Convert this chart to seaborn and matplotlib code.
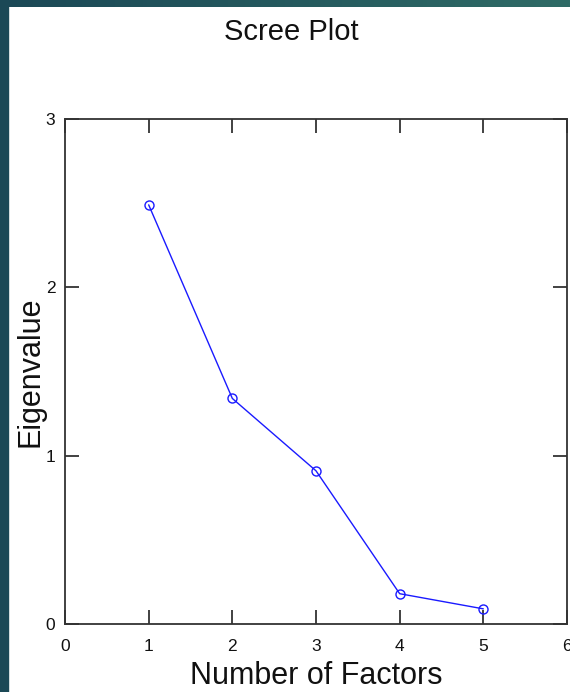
import numpy as np
import pandas as pd
import matplotlib
matplotlib.use("Agg")
import matplotlib.pyplot as plt
import seaborn as sns

# Scree plot data
factors = [1, 2, 3, 4, 5]
eigenvalues = [2.49, 1.34, 0.91, 0.18, 0.09]
x_ticks = [0, 1, 2, 3, 4, 5, 6]
y_ticks = [0, 1, 2, 3]

df = pd.DataFrame({"factor": factors, "eigenvalue": eigenvalues})

sns.set_style("ticks")
plt.rcParams['font.family'] = ['Liberation Sans', 'DejaVu Sans']

fig = plt.figure(figsize=(5.7, 6.92), dpi=100)
fig.patch.set_facecolor("white")

# dark slide border on the left and top
fig.patches.append(plt.Rectangle((0, 0), 8 / 570, 1, transform=fig.transFigure,
                                 color="#1b4856", zorder=0))
band = fig.add_axes([0, 1 - 7 / 692, 1, 7 / 692])
grad = np.linspace(0, 1, 256).reshape(1, -1)
band.imshow(grad, aspect="auto",
            cmap=matplotlib.colors.LinearSegmentedColormap.from_list("b", ["#1b4856", "#2f6b66"]))
band.axis("off")

ax = fig.add_axes([65 / 570, 68 / 692, 502 / 570, 505 / 692])
sns.lineplot(data=df, x="factor", y="eigenvalue", ax=ax, color="#1a1aff", linewidth=1,
             marker="o", markersize=6.5, markerfacecolor="none", markeredgecolor="#1a1aff",
             markeredgewidth=1)

ax.set_xlim(0, 6)
ax.set_ylim(0, 3)
ax.set_xticks(x_ticks)
ax.set_yticks(y_ticks)
ax.tick_params(direction="in", top=True, right=True, length=10, width=1.3,
               color="#333333", labelsize=12.5, labelcolor="#111111")
ax.tick_params(axis="x", pad=10.5)
ax.tick_params(axis="y", pad=7)
for s in ax.spines.values():
    s.set_visible(True)
    s.set_linewidth(1.3)
    s.set_color("#333333")

ax.set_xlabel("Number of Factors", fontsize=22, labelpad=5, color="#111111")
ax.set_ylabel("Eigenvalue", fontsize=22, labelpad=0, color="#111111")
fig.text(0.511, 1 - 40 / 692, "Scree Plot", ha="center", va="baseline", fontsize=21,
         color="#111111")

fig.savefig("out.png", dpi=100)
